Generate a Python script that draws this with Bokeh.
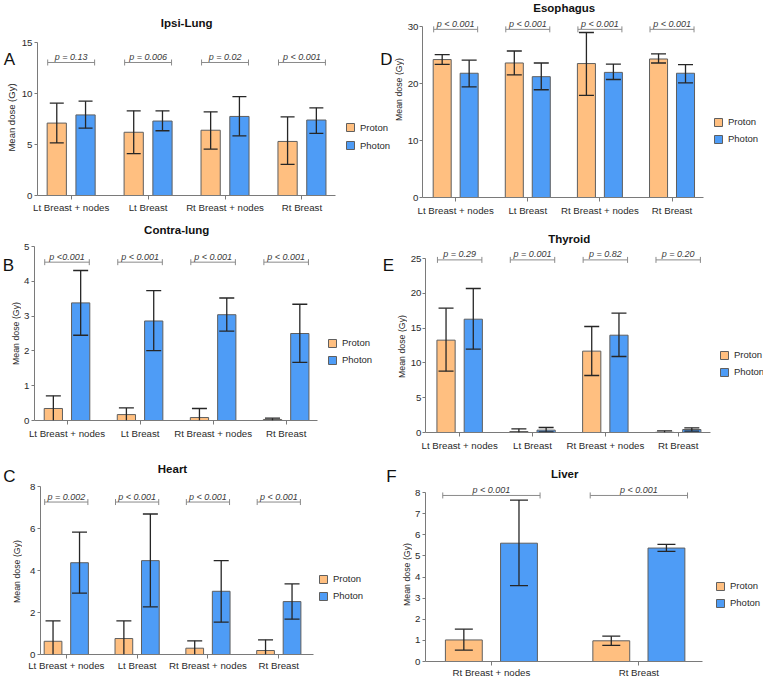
from bokeh.plotting import figure
from bokeh.layouts import row, column
from bokeh.models import (ColumnDataSource, Whisker, TeeHead, Label, Legend,
                          LegendItem, FixedTicker, Range1d)
from bokeh.embed import file_html
from bokeh.resources import INLINE
from bokeh.core.properties import value
import math

# ---------------- data ----------------
CATS4 = ["Lt Breast + nodes", "Lt Breast", "Rt Breast + nodes", "Rt Breast"]
CATS2 = ["Rt Breast + nodes", "Rt Breast"]

ipsi_proton = [7.1, 6.2, 6.4, 5.3]
ipsi_proton_lo = [5.15, 4.1, 4.55, 3.05]
ipsi_proton_hi = [9.05, 8.3, 8.2, 7.7]
ipsi_photon = [7.9, 7.3, 7.75, 7.4]
ipsi_photon_lo = [6.6, 6.35, 5.85, 6.1]
ipsi_photon_hi = [9.25, 8.3, 9.7, 8.6]
ipsi_p = ["p = 0.13", "p = 0.006", "p = 0.02", "p < 0.001"]
ipsi_yticks = [0, 5, 10, 15]
ipsi_bracket = 13.04

contra_proton = [0.345, 0.17, 0.085, 0.03]
contra_proton_lo = [0, 0, 0, 0]
contra_proton_hi = [0.71, 0.36, 0.345, 0.067]
contra_photon = [3.38, 2.86, 3.04, 2.5]
contra_photon_lo = [2.45, 2.01, 2.57, 1.67]
contra_photon_hi = [4.31, 3.73, 3.52, 3.34]
contra_p = ["p <0.001", "p < 0.001", "p < 0.001", "p < 0.001"]
contra_yticks = [0, 1, 2, 3, 4, 5]
contra_bracket = 4.55

heart_proton = [0.63, 0.76, 0.3, 0.19]
heart_proton_lo = [0, 0, 0, 0]
heart_proton_hi = [1.6, 1.6, 0.65, 0.7]
heart_photon = [4.37, 4.47, 3.01, 2.52]
heart_photon_lo = [2.92, 2.27, 1.54, 1.68]
heart_photon_hi = [5.83, 6.69, 4.47, 3.36]
heart_p = ["p = 0.002", "p < 0.001", "p < 0.001", "p < 0.001"]
heart_yticks = [0, 2, 4, 6, 8]
heart_bracket = 7.26

eso_proton = [24.2, 23.6, 23.5, 24.3]
eso_proton_lo = [23.35, 21.5, 17.9, 23.6]
eso_proton_hi = [25.05, 25.7, 28.95, 25.2]
eso_photon = [21.8, 21.2, 21.95, 21.8]
eso_photon_lo = [19.4, 18.9, 20.7, 20.1]
eso_photon_hi = [24.1, 23.6, 23.4, 23.3]
eso_p = ["p < 0.001", "p < 0.001", "p < 0.001", "p < 0.001"]
eso_yticks = [0, 10, 20, 30]
eso_bracket = 29.5

thy_proton = [13.27, 0.14, 11.69, 0.03]
thy_proton_lo = [8.81, 0, 8.19, 0]
thy_proton_hi = [17.86, 0.53, 15.23, 0.24]
thy_photon = [16.28, 0.34, 13.98, 0.43]
thy_photon_lo = [11.97, 0.1, 10.92, 0.19]
thy_photon_hi = [20.69, 0.72, 17.15, 0.67]
thy_p = ["p = 0.29", "p = 0.001", "p = 0.82", "p = 0.20"]
thy_yticks = [0, 5, 10, 15, 20, 25]
thy_bracket = 24.8

liver_proton = [1.02, 0.98]
liver_proton_lo = [0.54, 0.76]
liver_proton_hi = [1.53, 1.2]
liver_photon = [5.6, 5.37]
liver_photon_lo = [3.59, 5.21]
liver_photon_hi = [7.64, 5.54]
liver_p = ["p < 0.001", "p < 0.001"]
liver_yticks = [0, 1, 2, 3, 4, 5, 6, 7, 8]
liver_bracket = 7.86

YLABEL = "Mean dose (Gy)"

# ---------------- style ----------------
ORANGE = "#FFBF80"
BLUE = "#4E9CF6"
BAR_LINE = "#5f5f5f"
ERR = "#262626"
AXIS = "#7a7a7a"
TXT = "#2a2a2a"
FONT = "Liberation Sans"


def canvas_label(p, fig, text, pos, size, angle=0.0, bold=False):
    fx, fy = fig[0], fig[1]
    p.add_layout(Label(x=pos[0] - fx, y=pos[1] - fy, x_units="canvas", y_units="canvas",
                       text=text, text_align="center", text_baseline="middle",
                       angle=angle, text_font=FONT, text_font_size=size,
                       text_font_style="bold" if bold else "normal",
                       text_color="#111111" if not angle else TXT))


def side_fig(fig, bb):
    fx, fy, fw, fh = fig
    s = figure(width=fw, height=fh, x_range=Range1d(0, 1), y_range=Range1d(0, 1),
               output_backend="svg", toolbar_location=None,
               x_axis_location=None, y_axis_location=None,
               min_border_left=0, min_border_right=0, min_border_top=0,
               min_border_bottom=bb)
    s.outline_line_color = None
    s.grid.visible = False
    s.background_fill_color = "white"
    s.border_fill_color = "white"
    return s


def make_panel(g, title, cats, pro, pro_lo, pro_hi, pho, pho_lo, pho_hi,
               pvals, bracket_y, yticks):
    fx, fy, fw, fh = g["fig"]
    fl, ae = g["frame_left"], g["axis_end"]
    xs, xe = g["x_start"], g["x_end"]
    y0, ym = g["y0"], g["ymax_px"]
    ymax = yticks[-1]
    xscale = (ae - fl) / (xe - xs)
    yscale = (y0 - ym) / ymax
    x_rng_end = xs + (fx + fw - fl) / xscale
    y_rng_end = (y0 - fy) / yscale

    def xd(px):
        return xs + (px - fl) / xscale

    def yd(py):
        return (y0 - py) / yscale

    p = figure(width=fw, height=fh, x_range=Range1d(xs, x_rng_end),
               y_range=Range1d(0, y_rng_end), output_backend="svg",
               toolbar_location=None, min_border_left=fl - fx, min_border_right=0,
               min_border_top=0, min_border_bottom=fy + fh - y0)
    p.xgrid.visible = False
    p.ygrid.visible = False
    p.outline_line_color = None
    p.background_fill_color = "white"
    p.border_fill_color = "white"

    n = len(cats)
    xpos = list(range(n))
    off = 0.187
    bw = 0.25
    cap = g.get("cap", 15)

    rends = []
    for sign, vals, lo, hi, col in ((-1, pro, pro_lo, pro_hi, ORANGE),
                                    (1, pho, pho_lo, pho_hi, BLUE)):
        xx = [i + sign * off for i in xpos]
        src = ColumnDataSource(dict(x=xx, top=vals))
        r = p.vbar(x="x", top="top", bottom=0, width=bw, source=src,
                   fill_color=col, line_color=BAR_LINE, line_width=1)
        rends.append(r)
        full = [i for i in range(n) if lo[i] > 0]
        clip = [i for i in range(n) if lo[i] <= 0]
        for idx, has_low in ((full, True), (clip, False)):
            if not idx:
                continue
            es = ColumnDataSource(dict(x=[xx[i] for i in idx],
                                       lo=[lo[i] for i in idx],
                                       hi=[hi[i] for i in idx]))
            w = Whisker(source=es, base="x", lower="lo", upper="hi",
                        line_color=ERR, line_width=1.3,
                        upper_head=TeeHead(size=cap, line_color=ERR, line_width=1.3),
                        lower_head=(TeeHead(size=cap, line_color=ERR, line_width=1.3)
                                    if has_low else None),
                        level="overlay")
            p.add_layout(w)

    hw = g.get("bracket_hw", 0.305)
    bsrc = ColumnDataSource(dict(y=[bracket_y] * n,
                                 l=[i - hw for i in xpos],
                                 r=[i + hw for i in xpos]))
    p.add_layout(Whisker(source=bsrc, base="y", lower="l", upper="r",
                         dimension="width", line_color="#8a8a8a", line_width=1,
                         upper_head=TeeHead(size=6, line_color="#8a8a8a", line_width=1),
                         lower_head=TeeHead(size=6, line_color="#8a8a8a", line_width=1)))
    br_px = y0 - bracket_y * yscale
    tsrc = ColumnDataSource(dict(x=xpos, y=[yd(br_px - 5.5)] * n, t=pvals))
    p.text(x="x", y="y", text="t", source=tsrc, text_align="center",
           text_baseline="middle", text_font=value(FONT), text_font_style="italic",
           text_font_size="9px", text_color="#3a3a3a")

    tx, ty = g["title"]
    p.add_layout(Label(x=xd(tx), y=yd(ty), text=title, text_align="center",
                       text_baseline="middle", text_font=FONT,
                       text_font_style="bold", text_font_size="11.5px",
                       text_color="#111111"))

    for ax in (p.xaxis, p.yaxis):
        ax.axis_line_color = AXIS
        ax.major_tick_line_color = AXIS
        ax.minor_tick_line_color = None
        ax.major_tick_in = 0
        ax.major_tick_out = 4
        ax.major_label_text_font = FONT
        ax.major_label_text_color = TXT
    p.yaxis.major_tick_out = 3
    p.xaxis.ticker = FixedTicker(ticks=xpos)
    p.xaxis.major_label_overrides = {i: c for i, c in enumerate(cats)}
    p.xaxis.bounds = (xs, xe)
    p.xaxis.major_label_text_font_size = "9.7px"
    p.xaxis.major_label_standoff = g.get("xtick_standoff", 3)
    p.yaxis.ticker = FixedTicker(ticks=yticks)
    p.yaxis.bounds = (0, ymax)
    p.yaxis.major_label_text_font_size = "9.7px"
    p.yaxis.major_label_standoff = g.get("ytick_standoff", 2)

    sq_left, pro_y = g["legend"]
    pitch = int(g.get("pitch", 17))
    leg = Legend(items=[LegendItem(label="Proton", renderers=[rends[0]]),
                        LegendItem(label="Photon", renderers=[rends[1]])],
                 location=(int(round(sq_left - fl)), int(round(y0 - (pro_y + 1.5 * pitch)))),
                 padding=0, margin=0, spacing=0, label_height=pitch,
                 glyph_height=10, glyph_width=10, label_standoff=5,
                 label_text_font=FONT, label_text_font_size="9.5px",
                 label_text_color=TXT, border_line_color=None,
                 background_fill_alpha=0)
    p.add_layout(leg)
    return p


# geometry (pixel positions)
GA = dict(fig=(18, 0, 374, 220), frame_left=35, axis_end=335, x_start=-0.4375,
          x_end=3.44, y0=195, ymax_px=42, title=(185, 22),
          legend=(343, 127), pitch=18, cap=14, xtick_standoff=2)
GD = dict(fig=(404, 0, 359, 222), frame_left=419, axis_end=702, x_start=-0.46,
          x_end=3.43, y0=197, ymax_px=26, title=(562, 7),
          legend=(710, 121), pitch=17, ytick_standoff=1)
GB = dict(fig=(21, 222, 359, 222), frame_left=32, axis_end=317, x_start=-0.445,
          x_end=3.434, y0=420, ymax_px=246, title=(175, 229),
          legend=(325, 342), pitch=17)
GE = dict(fig=(407, 222, 356, 234), frame_left=422, axis_end=710, x_start=-0.469,
          x_end=3.45, y0=432, ymax_px=258, title=(567, 238),
          legend=(716, 354), pitch=17, ytick_standoff=1)
GC = dict(fig=(22, 456, 358, 217), frame_left=40, axis_end=313, x_start=-0.364,
          x_end=3.49, y0=654, ymax_px=486, title=(172, 468),
          legend=(318, 579), pitch=17, xtick_standoff=1)
GF = dict(fig=(412, 456, 351, 224), frame_left=423, axis_end=702, x_start=-0.447,
          x_end=1.434, y0=661, ymax_px=492, title=(563, 473),
          legend=(713, 585), pitch=17, cap=18, bracket_hw=0.33, xtick_standoff=1)

pA = make_panel(GA, "Ipsi-Lung", CATS4, ipsi_proton, ipsi_proton_lo, ipsi_proton_hi,
                ipsi_photon, ipsi_photon_lo, ipsi_photon_hi, ipsi_p, ipsi_bracket, ipsi_yticks)
pB = make_panel(GB, "Contra-lung", CATS4, contra_proton, contra_proton_lo, contra_proton_hi,
                contra_photon, contra_photon_lo, contra_photon_hi, contra_p, contra_bracket,
                contra_yticks)
pC = make_panel(GC, "Heart", CATS4, heart_proton, heart_proton_lo, heart_proton_hi,
                heart_photon, heart_photon_lo, heart_photon_hi, heart_p, heart_bracket,
                heart_yticks)
pD = make_panel(GD, "Esophagus", CATS4, eso_proton, eso_proton_lo, eso_proton_hi,
                eso_photon, eso_photon_lo, eso_photon_hi, eso_p, eso_bracket, eso_yticks)
pE = make_panel(GE, "Thyroid", CATS4, thy_proton, thy_proton_lo, thy_proton_hi,
                thy_photon, thy_photon_lo, thy_photon_hi, thy_p, thy_bracket, thy_yticks)
pF = make_panel(GF, "Liver", CATS2, liver_proton, liver_proton_lo, liver_proton_hi,
                liver_photon, liver_photon_lo, liver_photon_hi, liver_p, liver_bracket,
                liver_yticks)

# narrow strips left of each panel: panel letter and y-axis title
NA = (0, 0, 18, 220)
ND = (392, 0, 12, 222)
NB = (0, 222, 21, 222)
NE = (380, 222, 27, 234)
NC = (0, 456, 22, 217)
NF = (380, 456, 32, 224)
sA, sD = side_fig(NA, 25), side_fig(ND, 25)
sB, sE = side_fig(NB, 24), side_fig(NE, 24)
sC, sF = side_fig(NC, 19), side_fig(NF, 19)

V = math.pi / 2
canvas_label(sA, NA, YLABEL, (11, 117), "9.5px", angle=V)
canvas_label(sD, ND, YLABEL, (398, 89), "8.8px", angle=V)
canvas_label(sB, NB, YLABEL, (15, 333), "8.8px", angle=V)
canvas_label(sE, NE, YLABEL, (401.5, 346), "8.8px", angle=V)
canvas_label(sC, NC, YLABEL, (16, 571), "8.8px", angle=V)
canvas_label(sF, NF, YLABEL, (406.5, 574), "8.8px", angle=V)

canvas_label(sA, NA, "A", (9, 59), "17px")
canvas_label(pA, GA["fig"], "D", (386, 59), "17px")
canvas_label(sB, NB, "B", (8, 265), "17px")
canvas_label(sE, NE, "E", (388, 265), "17px")
canvas_label(sC, NC, "C", (9, 476), "17px")
canvas_label(sF, NF, "F", (391, 476), "17px")

layout = column(row(sA, pA, sD, pD), row(sB, pB, sE, pE), row(sC, pC, sF, pF))
open("out.html", "w").write(file_html(layout, INLINE))
